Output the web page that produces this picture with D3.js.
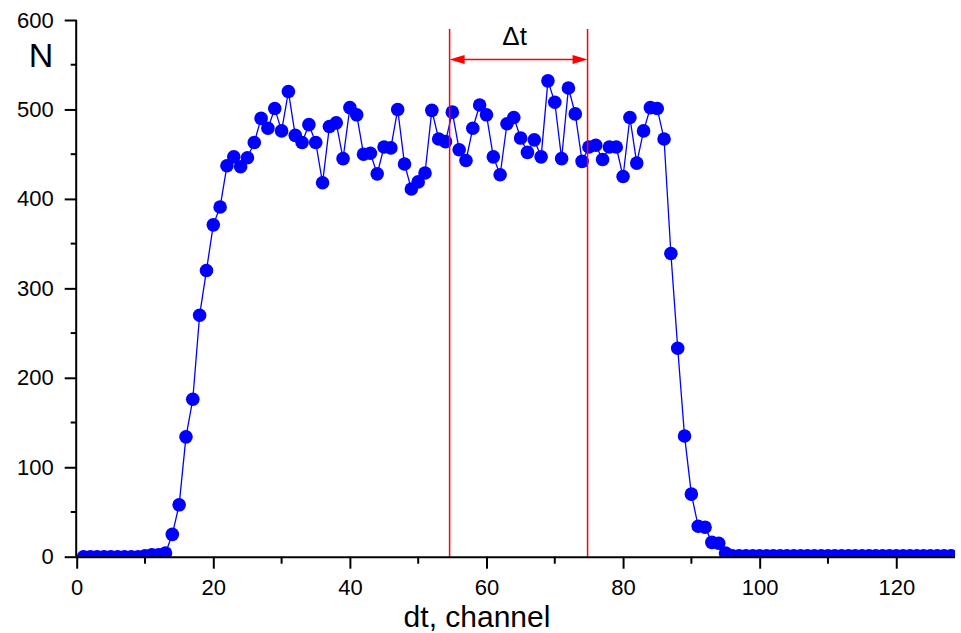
<!DOCTYPE html>
<html>
<head>
<meta charset="utf-8">
<script src="https://cdn.jsdelivr.net/npm/d3@7"></script>
<style>
  body { margin: 0; background: #fff; }
  svg { display: block; }
  text { font-family: "Liberation Sans", Arial, sans-serif; }
</style>
</head>
<body>
<svg id="chart" width="961" height="633"></svg>
<script>
// ---- data ----
const channels = d3.range(1, 129);
const counts = [
  0, 0, 0, 0, 0, 0, 0, 0, 0, 1,            // 1-10
  2, 2, 4, 25, 58, 134, 176, 270, 320, 371, // 11-20
  391, 437, 447, 436, 446, 463, 490, 479, 501, 476, // 21-30
  520, 471, 463, 483, 463, 418, 481, 485, 445, 502, // 31-40
  494, 450, 451, 428, 458, 457, 500, 439, 411, 419, // 41-50
  429, 499, 467, 464, 497, 455, 443, 479, 505, 494, // 51-60
  447, 427, 484, 491, 468, 452, 466, 447, 532, 508, // 61-70
  445, 524, 495, 442, 458, 460, 444, 458, 458, 425, // 71-80
  491, 440, 476, 502, 501, 467, 339, 233, 135, 70,  // 81-90
  34, 33, 16, 15, 4, 1, 1, 1, 1, 1,         // 91-100
  1, 1, 1, 1, 1, 1, 1, 1, 1, 1,             // 101-110
  1, 1, 1, 1, 1, 1, 1, 1, 1, 1,             // 111-120
  1, 1, 1, 1, 1, 1, 1, 1                    // 121-128
];
const xTicks = [0, 20, 40, 60, 80, 100, 120];
const yTicks = [0, 100, 200, 300, 400, 500, 600];
const markerLines = [54.6, 74.8];
const xLabel = "dt, channel";
const yLabel = "N";
const intervalLabel = "\u0394t";

// ---- layout ----
const svg = d3.select("#chart");
const pL = 76.7, pR = 955, pT = 20, pB = 556.7;

const x = d3.scaleLinear().domain([0, 128.6]).range([pL, pR]);
const y = d3.scaleLinear().domain([0, 600]).range([pB, pT]);

svg.append("defs").append("clipPath").attr("id", "plotclip")
  .append("rect")
  .attr("x", pL).attr("y", pT - 10)
  .attr("width", pR - pL).attr("height", pB - pT + 10);

const data = channels.map((c, i) => ({ c, v: counts[i] }));

const plot = svg.append("g").attr("clip-path", "url(#plotclip)");

plot.append("path")
  .datum(data)
  .attr("fill", "none")
  .attr("stroke", "#0000ff")
  .attr("stroke-width", 1.3)
  .attr("d", d3.line().x(d => x(d.c)).y(d => y(d.v)));

plot.selectAll("circle")
  .data(data)
  .join("circle")
  .attr("cx", d => x(d.c))
  .attr("cy", d => y(d.v))
  .attr("r", 6.8)
  .attr("fill", "#0000ff");

// red interval lines
const red = "#ff0000";
svg.selectAll("line.vl")
  .data(markerLines)
  .join("line")
  .attr("class", "vl")
  .attr("x1", d => x(d)).attr("x2", d => x(d))
  .attr("y1", 29).attr("y2", pB)
  .attr("stroke", red).attr("stroke-width", 1.5);

const arrowY = 59.5;
svg.append("line")
  .attr("x1", x(markerLines[0]) + 10).attr("x2", x(markerLines[1]) - 10)
  .attr("y1", arrowY).attr("y2", arrowY)
  .attr("stroke", red).attr("stroke-width", 1.5);
const ah = 15, aw = 4.5;
const xl = x(markerLines[0]), xr = x(markerLines[1]);
svg.append("path")
  .attr("d", `M${xl},${arrowY} L${xl + ah},${arrowY - aw} L${xl + ah},${arrowY + aw} Z`)
  .attr("fill", red);
svg.append("path")
  .attr("d", `M${xr},${arrowY} L${xr - ah},${arrowY + aw} L${xr - ah},${arrowY - aw} Z`)
  .attr("fill", red);

svg.append("text")
  .attr("x", (xl + xr) / 2 - 4).attr("y", 45)
  .attr("text-anchor", "middle")
  .attr("font-size", 26)
  .text(intervalLabel);

// ---- axes ----
const tickFont = 22;
const xAxis = d3.axisBottom(x).tickValues(xTicks).tickSize(12).tickSizeOuter(0).tickPadding(11);
const gx = svg.append("g").attr("transform", `translate(0,${pB})`).call(xAxis);
gx.select(".domain").attr("d", `M${pL},0.5H${pR}`).attr("stroke-width", 2);
gx.selectAll(".tick line").attr("stroke-width", 2);
gx.selectAll(".tick text").attr("font-size", tickFont).attr("font-family", "Liberation Sans, Arial, sans-serif").attr("fill", "#000");
gx.selectAll(".minor").data(d3.range(10, 128, 20)).join("line")
  .attr("class", "minor")
  .attr("x1", d => x(d)).attr("x2", d => x(d))
  .attr("y1", 0).attr("y2", 7)
  .attr("stroke", "#000").attr("stroke-width", 2);

const yAxis = d3.axisLeft(y).tickValues(yTicks).tickSize(12).tickSizeOuter(0).tickPadding(11);
const gy = svg.append("g").attr("transform", `translate(${pL},0)`).call(yAxis);
gy.select(".domain").attr("d", `M-0.5,${pT}V${pB}`).attr("stroke-width", 2);
gy.selectAll(".tick line").attr("stroke-width", 2);
gy.selectAll(".tick text").attr("font-size", tickFont).attr("font-family", "Liberation Sans, Arial, sans-serif").attr("fill", "#000");
gy.selectAll(".minor").data(d3.range(50, 600, 100)).join("line")
  .attr("class", "minor")
  .attr("x1", 0).attr("x2", -6)
  .attr("y1", d => y(d)).attr("y2", d => y(d))
  .attr("stroke", "#000").attr("stroke-width", 2);

svg.append("text")
  .attr("x", 477).attr("y", 627)
  .attr("text-anchor", "middle")
  .attr("font-size", 30)
  .text(xLabel);

svg.append("text")
  .attr("x", 41).attr("y", 67)
  .attr("text-anchor", "middle")
  .attr("font-size", 34)
  .text(yLabel);
</script>
</body>
</html>
